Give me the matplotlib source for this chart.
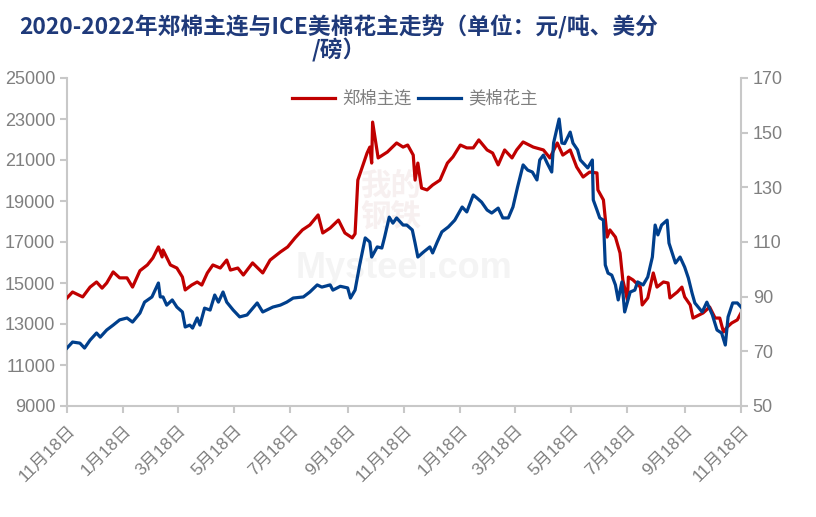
import matplotlib
matplotlib.use("Agg")
import matplotlib.pyplot as plt
import pandas as pd

plt.rcParams['font.family'] = ['Liberation Sans', 'Noto Sans CJK SC', 'DejaVu Sans']

title = "2020-2022年郑棉主连与ICE美棉花主走势（单位：元/吨、美分\n/磅）"
name_zc = "郑棉主连"
name_ice = "美棉花主"

zc_dates = [
    "2020-11-18", "2020-11-24", "2020-12-05", "2020-12-13", "2020-12-20", "2020-12-26", "2020-12-31",
    "2021-01-07", "2021-01-14", "2021-01-22", "2021-01-28", "2021-02-05", "2021-02-13", "2021-02-19",
    "2021-02-25", "2021-03-01", "2021-03-02", "2021-03-10", "2021-03-17", "2021-03-23", "2021-03-26",
    "2021-04-02", "2021-04-08", "2021-04-13", "2021-04-19", "2021-04-25", "2021-05-03", "2021-05-10",
    "2021-05-14", "2021-05-22", "2021-05-28", "2021-06-07", "2021-06-18", "2021-06-26", "2021-07-07",
    "2021-07-15", "2021-07-23", "2021-07-31", "2021-08-08", "2021-08-17", "2021-08-22", "2021-08-30",
    "2021-09-08", "2021-09-15", "2021-09-23", "2021-09-26", "2021-09-29", "2021-10-09", "2021-10-12",
    "2021-10-14", "2021-10-15", "2021-10-21", "2021-10-31", "2021-11-10", "2021-11-17", "2021-11-22",
    "2021-11-28", "2021-11-30", "2021-12-03", "2021-12-07", "2021-12-13", "2021-12-19", "2021-12-27",
    "2022-01-04", "2022-01-10", "2022-01-18", "2022-01-25", "2022-02-01", "2022-02-07", "2022-02-16",
    "2022-02-22", "2022-02-28", "2022-03-07", "2022-03-15", "2022-03-20", "2022-03-27", "2022-04-07",
    "2022-04-18", "2022-04-25", "2022-05-03", "2022-05-09", "2022-05-17", "2022-05-24", "2022-05-31",
    "2022-06-07", "2022-06-15", "2022-06-16", "2022-06-22", "2022-06-26", "2022-06-29", "2022-07-05",
    "2022-07-10", "2022-07-13", "2022-07-18", "2022-07-19", "2022-07-24", "2022-08-01", "2022-08-03",
    "2022-08-09", "2022-08-15", "2022-08-19", "2022-08-26", "2022-08-31", "2022-09-02", "2022-09-10",
    "2022-09-15", "2022-09-18", "2022-09-24", "2022-09-27", "2022-10-08", "2022-10-15", "2022-10-21",
    "2022-10-26", "2022-10-30", "2022-11-03", "2022-11-08", "2022-11-14", "2022-11-18",
]
zc_values = [
    14270, 14560, 14320, 14800, 15050, 14750, 15000,
    15540, 15250, 15250, 14800, 15600, 15880, 16220,
    16760, 16270, 16610, 15880, 15730, 15290, 14660,
    14900, 15050, 14900, 15490, 15880, 15730, 16120,
    15630, 15730, 15390, 15980, 15490, 16120, 16510,
    16760, 17200, 17590, 17830, 18320, 17440, 17680,
    18070, 17440, 17200, 17400, 20020, 21340, 21630,
    20850, 22850, 21100, 21390, 21830, 21630, 21730,
    21240, 20020, 20850, 19630, 19540, 19780, 20020,
    20850, 21150, 21730, 21590, 21590, 21980, 21490,
    21340, 20760, 21490, 21100, 21490, 21880, 21630,
    21490, 21100, 21830, 21240, 21490, 20660, 20170,
    20410, 20370, 19540, 19050, 17240, 17590, 17240,
    16460, 15150, 14170, 15290, 15150, 14800, 13930,
    14270, 15490, 14800, 15050, 15000, 14270, 14560,
    14800, 14320, 13930, 13290, 13540, 13830, 13290,
    13290, 12610, 12850, 13050, 13200, 13540,
]

ice_dates = [
    "2020-11-18", "2020-11-24", "2020-12-02", "2020-12-07", "2020-12-13", "2020-12-20", "2020-12-24",
    "2020-12-31", "2021-01-07", "2021-01-14", "2021-01-22", "2021-01-28", "2021-02-05", "2021-02-10",
    "2021-02-18", "2021-02-25", "2021-02-27", "2021-03-02", "2021-03-06", "2021-03-12", "2021-03-17",
    "2021-03-23", "2021-03-26", "2021-03-31", "2021-04-03", "2021-04-08", "2021-04-11", "2021-04-16",
    "2021-04-22", "2021-04-27", "2021-05-01", "2021-05-06", "2021-05-10", "2021-05-17", "2021-05-24",
    "2021-06-01", "2021-06-12", "2021-06-18", "2021-06-29", "2021-07-07", "2021-07-14", "2021-07-21",
    "2021-08-01", "2021-08-08", "2021-08-16", "2021-08-21", "2021-08-30", "2021-09-02", "2021-09-10",
    "2021-09-18", "2021-09-21", "2021-09-26", "2021-10-01", "2021-10-07", "2021-10-12", "2021-10-14",
    "2021-10-20", "2021-10-25", "2021-10-28", "2021-11-02", "2021-11-06", "2021-11-10", "2021-11-17",
    "2021-11-21", "2021-11-27", "2021-11-30", "2021-12-03", "2021-12-09", "2021-12-16", "2021-12-19",
    "2021-12-24", "2021-12-29", "2022-01-05", "2022-01-12", "2022-01-20", "2022-01-25", "2022-02-01",
    "2022-02-05", "2022-02-10", "2022-02-16", "2022-02-21", "2022-02-28", "2022-03-05", "2022-03-11",
    "2022-03-16", "2022-03-21", "2022-03-27", "2022-04-01", "2022-04-06", "2022-04-11", "2022-04-14",
    "2022-04-18", "2022-04-22", "2022-04-27", "2022-04-29", "2022-05-05", "2022-05-08", "2022-05-11",
    "2022-05-17", "2022-05-20", "2022-05-25", "2022-05-28", "2022-06-02", "2022-06-05", "2022-06-10",
    "2022-06-11", "2022-06-15", "2022-06-18", "2022-06-22", "2022-06-24", "2022-06-27", "2022-07-01",
    "2022-07-05", "2022-07-08", "2022-07-12", "2022-07-15", "2022-07-21", "2022-07-26", "2022-07-29",
    "2022-08-04", "2022-08-09", "2022-08-14", "2022-08-17", "2022-08-20", "2022-08-24", "2022-08-30",
    "2022-09-01", "2022-09-08", "2022-09-13", "2022-09-18", "2022-09-22", "2022-09-26", "2022-09-29",
    "2022-10-07", "2022-10-12", "2022-10-18", "2022-10-23", "2022-10-28", "2022-11-01", "2022-11-04",
    "2022-11-09", "2022-11-14", "2022-11-18",
]
ice_values = [
    71.2, 73.4, 73.0, 71.2, 74.1, 76.7, 75.2,
    77.8, 79.6, 81.5, 82.2, 80.7, 84.0, 88.0,
    89.9, 95.0, 89.9, 89.9, 86.9, 88.8, 86.2,
    84.4, 78.9, 79.6, 78.5, 82.2, 79.6, 85.8,
    85.1, 90.6, 88.0, 91.7, 88.0, 85.1, 82.6,
    83.3, 87.7, 84.4, 86.2, 86.9, 88.0, 89.5,
    89.9, 91.7, 94.3, 93.5, 94.3, 92.4, 93.8,
    93.2, 89.5, 92.4, 101.6, 111.5, 110.0, 104.5,
    108.2, 107.8, 111.8, 119.1, 116.9, 118.8, 116.2,
    116.2, 114.4, 109.6, 104.5, 106.3, 108.2, 106.0,
    110.0, 113.7, 115.5, 118.0, 122.8, 121.0, 127.2,
    126.1, 124.6, 121.7, 120.6, 122.4, 118.8, 118.8,
    122.8, 130.1, 138.2, 136.3, 135.6, 132.7, 140.0,
    141.8, 138.9, 135.6, 146.2, 155.0, 146.2, 146.0,
    150.2, 146.2, 143.7, 140.0, 138.2, 137.1, 140.0,
    125.4, 121.7, 118.8, 118.0, 101.6, 98.6, 97.9,
    94.3, 88.8, 95.4, 84.4, 91.7, 92.4, 95.4,
    94.3, 97.2, 104.5, 116.2, 112.6, 116.2, 118.0,
    109.6, 102.3, 104.5, 100.8, 96.8, 91.3, 87.7,
    84.4, 88.0, 83.3, 77.8, 76.7, 72.3, 82.6,
    87.7, 87.7, 86.2,
]

left_ticks = [9000, 11000, 13000, 15000, 17000, 19000, 21000, 23000, 25000]
right_ticks = [50, 70, 90, 110, 130, 150, 170]
x_tick_dates = ["2020-11-18", "2021-01-18", "2021-03-18", "2021-05-18", "2021-07-18",
                "2021-09-18", "2021-11-18", "2022-01-18", "2022-03-18", "2022-05-18",
                "2022-07-18", "2022-09-18", "2022-11-18"]

red = "#C00000"
blue = "#003F8C"
gray_axis = "#C8C8C8"
gray_text = "#7F7F7F"

fig = plt.figure(figsize=(8.16, 5.17), dpi=100)
ax = fig.add_axes([67/816, 1-406/517, (741-67)/816, (406-78)/517])
ax2 = ax.twinx()

zd = pd.to_datetime(zc_dates)
idt = pd.to_datetime(ice_dates)
l1, = ax.plot(zd, zc_values, color=red, lw=2.3, label=name_zc, zorder=3)
l2, = ax2.plot(idt, ice_values, color=blue, lw=2.3, label=name_ice, zorder=3)

ax.set_ylim(9000, 25000)
ax.set_yticks(left_ticks)
ax2.set_ylim(50, 170)
ax2.set_yticks(right_ticks)
xt = pd.to_datetime(x_tick_dates)
ax.set_xlim(xt[0], xt[-1])
ax.set_xticks(xt)
ax.set_xticklabels([f"{d.month}月{d.day}日" for d in xt], rotation=45, ha='right',
                   rotation_mode='anchor', fontsize=12.5, color=gray_text)

for a in (ax, ax2):
    a.spines['top'].set_visible(False)
    for s in ('left', 'right', 'bottom'):
        a.spines[s].set_color(gray_axis)
        a.spines[s].set_linewidth(1.5)
    a.tick_params(axis='both', colors=gray_axis, length=5, width=1.5, labelsize=13,
                  labelcolor=gray_text)
ax.spines['right'].set_visible(False)
ax2.spines['left'].set_visible(False)
ax2.spines['bottom'].set_visible(False)
ax.tick_params(axis='x', pad=7, labelsize=12.5)

# faint watermark behind the lines
ax.text(0.5, 0.42, "Mysteel.com", transform=ax.transAxes, fontsize=26, color="#F4F4F4",
        ha='center', va='center', fontweight='bold', zorder=0)
ax.text(0.48, 0.62, "我的\n钢铁", transform=ax.transAxes, fontsize=22, color="#F7F0F0",
        ha='center', va='center', fontweight='bold', zorder=0, linespacing=0.95,
        family=['Noto Sans CJK SC'])

leg = ax.legend(handles=[l1, l2], loc='upper center', bbox_to_anchor=(0.516, 1.012), ncol=2,
                frameon=False, prop={'family': ['Noto Sans CJK SC'], 'size': 12.5},
                handlelength=2.5, columnspacing=0.35, handletextpad=0.4)
for t in leg.get_texts():
    t.set_color(gray_text)

fig.text(339/816, 1-15/517, title, ha='center', va='top', fontsize=16.4, fontweight='bold',
         color="#1F3A7A", family=['Noto Sans CJK SC', 'DejaVu Sans'], linespacing=0.95)

fig.savefig("out.png", dpi=100)
